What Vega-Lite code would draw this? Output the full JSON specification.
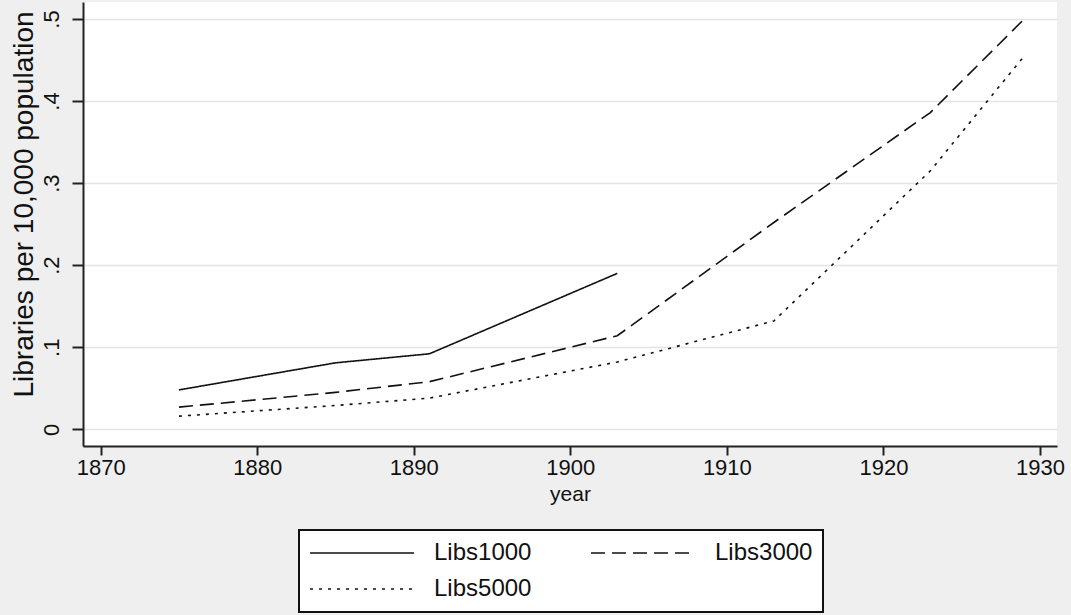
{
  "$schema": "https://vega.github.io/schema/vega-lite/v6.json",
  "width": 974,
  "height": 444,
  "autosize": {"type": "none"},
  "padding": {"left": 83, "top": 2, "right": 14, "bottom": 169},
  "background": "#efefef",
  "config": {
    "view": {"fill": "white", "stroke": null},
    "font": "Liberation Sans"
  },
  "data": {
    "values": [
      {"year": 1875, "series": "Libs1000", "value": 0.048},
      {"year": 1885, "series": "Libs1000", "value": 0.081},
      {"year": 1891, "series": "Libs1000", "value": 0.092},
      {"year": 1903, "series": "Libs1000", "value": 0.19},
      {"year": 1875, "series": "Libs3000", "value": 0.027},
      {"year": 1885, "series": "Libs3000", "value": 0.045},
      {"year": 1891, "series": "Libs3000", "value": 0.058},
      {"year": 1903, "series": "Libs3000", "value": 0.114},
      {"year": 1913, "series": "Libs3000", "value": 0.252},
      {"year": 1923, "series": "Libs3000", "value": 0.386},
      {"year": 1929, "series": "Libs3000", "value": 0.5},
      {"year": 1875, "series": "Libs5000", "value": 0.016},
      {"year": 1885, "series": "Libs5000", "value": 0.029},
      {"year": 1891, "series": "Libs5000", "value": 0.038},
      {"year": 1903, "series": "Libs5000", "value": 0.082},
      {"year": 1913, "series": "Libs5000", "value": 0.132},
      {"year": 1923, "series": "Libs5000", "value": 0.315},
      {"year": 1929, "series": "Libs5000", "value": 0.455}
    ]
  },
  "mark": {"type": "line", "color": "#111111", "strokeWidth": 1.6, "clip": true},
  "encoding": {
    "x": {
      "field": "year",
      "type": "quantitative",
      "scale": {"domain": [1868.87, 1931.09], "nice": false, "zero": false},
      "axis": {
        "values": [1870, 1880, 1890, 1900, 1910, 1920, 1930],
        "format": "d",
        "title": "year",
        "grid": false,
        "domainColor": "#222222",
        "domainWidth": 2,
        "tickColor": "#222222",
        "tickWidth": 2,
        "tickSize": 9,
        "labelFontSize": 22,
        "labelColor": "#111111",
        "labelPadding": 2,
        "labelFlush": false,
        "labelOverlap": false,
        "titleFontSize": 21,
        "titleFontWeight": "normal",
        "titleColor": "#111111",
        "titleBaseline": "alphabetic",
        "titleAlign": "center",
        "titleX": 487,
        "titleY": 54
      }
    },
    "y": {
      "field": "value",
      "type": "quantitative",
      "scale": {"domain": [-0.02035, 0.5207], "nice": false, "zero": false},
      "axis": {
        "values": [0, 0.1, 0.2, 0.3, 0.4, 0.5],
        "labelExpr": "datum.value == 0 ? '0' : replace(format(datum.value, '.1f'), '0.', '.')",
        "labelAngle": -90,
        "labelAlign": "center",
        "labelBaseline": "alphabetic",
        "labelPadding": 14,
        "labelFontSize": 22,
        "labelColor": "#111111",
        "labelFlush": false,
        "labelOverlap": false,
        "tickSize": 11,
        "tickColor": "#222222",
        "tickWidth": 2,
        "domainColor": "#222222",
        "domainWidth": 2,
        "grid": true,
        "gridColor": "#e4e4e4",
        "gridWidth": 1.5,
        "title": "Libraries per 10,000 population",
        "titleFontSize": 28,
        "titleFontWeight": "normal",
        "titleColor": "#111111",
        "titleAngle": -90,
        "titleAlign": "center",
        "titleBaseline": "alphabetic",
        "titleX": -51,
        "titleY": 202
      }
    },
    "strokeDash": {
      "field": "series",
      "type": "nominal",
      "scale": {
        "domain": ["Libs1000", "Libs3000", "Libs5000"],
        "range": [[1, 0], [14, 7], [3, 6]]
      },
      "legend": {
        "title": null,
        "orient": "none",
        "legendX": 216,
        "legendY": 528,
        "direction": "horizontal",
        "columns": 2,
        "symbolType": "stroke",
        "symbolSize": 10816,
        "symbolStrokeWidth": 1.6,
        "symbolStrokeColor": "#111111",
        "labelFontSize": 24,
        "labelColor": "#111111",
        "labelOffset": 19,
        "labelLimit": 0,
        "clipHeight": 26,
        "rowPadding": 10,
        "columnPadding": 58,
        "padding": 10,
        "strokeColor": "#111111",
        "fillColor": "white",
        "cornerRadius": 0,
        "encode": {"legend": {"update": {"strokeWidth": {"value": 2}}}}
      }
    }
  }
}
